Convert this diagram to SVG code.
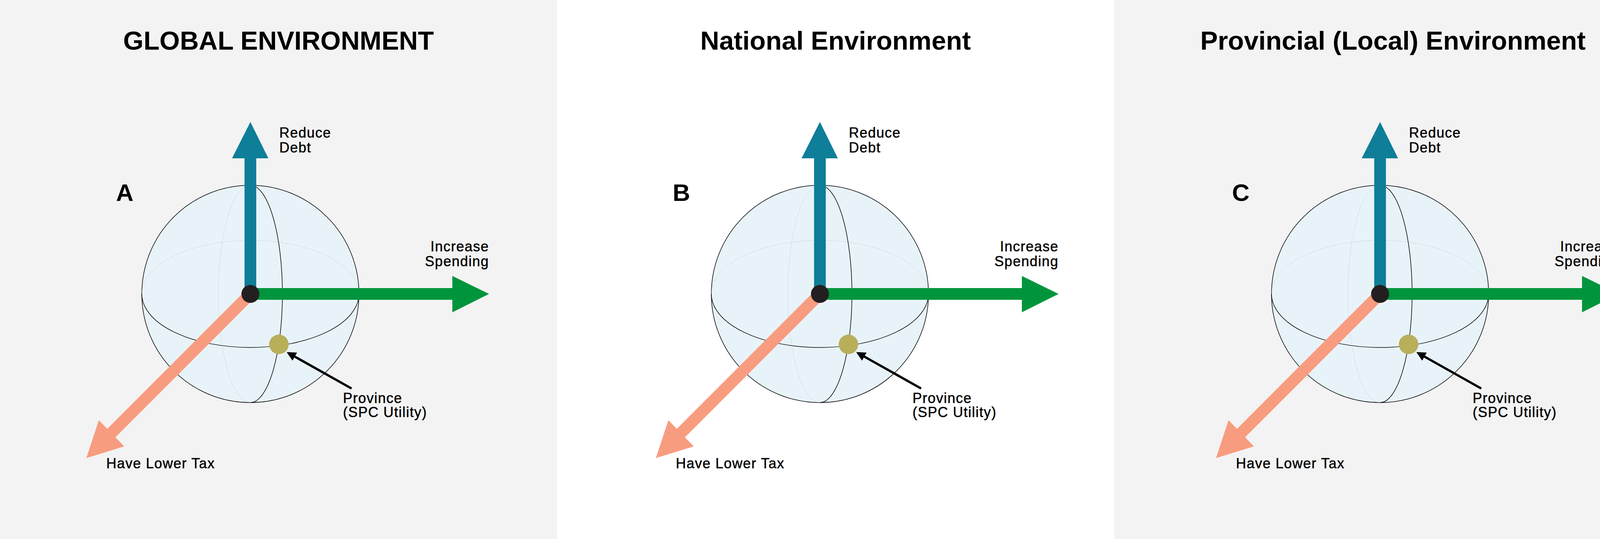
<svg xmlns="http://www.w3.org/2000/svg" width="4278" height="1379" viewBox="0 0 4278 1379">
<defs>
<style>
.t{font-family:"Liberation Sans",Arial,sans-serif;font-weight:bold;font-size:67px;fill:#000;text-anchor:middle}
.L{font-family:"Liberation Sans",Arial,sans-serif;font-weight:bold;font-size:62px;fill:#000}
.lb{font-family:"Liberation Sans",Arial,sans-serif;font-size:36px;fill:#000;stroke:#000;stroke-width:0.6;letter-spacing:1.5px}
.sph{fill:#e8f3f9;stroke:#000;stroke-width:1.5}
.fr{fill:none;stroke:#000;stroke-width:1.5}
.bk{fill:none;stroke:#aab;stroke-width:1;stroke-dasharray:2 3}
</style>
<marker id="ah" viewBox="0 0 10 10" refX="8" refY="5" markerWidth="4" markerHeight="4" orient="auto"><path d="M0,0 L10,5 L0,10 z" fill="#000"/></marker>
<g id="panel">
<g class="sphere"><circle r="278" class="sph"/>
<path class="bk" d="M-278,0 A278,137 0 0 1 278,0"/>
<path class="bk" d="M0,-278 A82,278 0 0 0 0,278"/>
<path class="fr" d="M-278,0 A278,137 0 0 0 278,0"/>
<path class="fr" d="M0,-278 A82,278 0 0 1 0,278"/></g>
<g class="ax-debt"><rect x="-15" y="-348" width="30" height="348" fill="#0f7e99"/><polygon points="-47,-347 46,-347 0,-440" fill="#0f7e99"/></g>
<g class="ax-spend"><rect x="0" y="-15" width="518" height="30" fill="#00953d"/><polygon points="517,-46 517,47 611,0" fill="#00953d"/></g>
<g class="ax-tax"><line x1="0" y1="0" x2="-358" y2="358" stroke="#f89c80" stroke-width="30"/><polygon points="-388,323 -323,390 -420,420" fill="#f89c80"/></g>
<circle r="23" fill="#231f20"/>
<circle cx="73" cy="129" r="25" fill="#b8af5a"/>
<line x1="259" y1="242" x2="97" y2="151" stroke="#000" stroke-width="6" marker-end="url(#ah)"/>
<text class="lb" x="74" y="-400">Reduce</text><text class="lb" x="74" y="-362">Debt</text>
<text class="lb" x="611" y="-109" text-anchor="end">Increase</text><text class="lb" x="611" y="-71" text-anchor="end">Spending</text>
<text class="lb" x="237" y="279">Province</text><text class="lb" x="237" y="315">(SPC Utility)</text>
<text class="lb" x="-369" y="446">Have Lower Tax</text>
</g>
</defs>
<rect width="1426" height="1379" fill="#f3f3f3"/>
<rect x="1426" width="1426" height="1379" fill="#ffffff"/>
<rect x="2852" width="1426" height="1379" fill="#f3f3f3"/>
<g id="panelA"><text class="t" x="713" y="127">GLOBAL ENVIRONMENT</text><text class="L" x="297" y="514">A</text><use href="#panel" x="641" y="752"/></g>
<g id="panelB"><text class="t" x="2139" y="127">National Environment</text><text class="L" x="1722" y="514">B</text><use href="#panel" x="2099" y="752"/></g>
<g id="panelC"><text class="t" x="3566" y="127">Provincial (Local) Environment</text><text class="L" x="3154" y="514">C</text><use href="#panel" x="3533" y="752"/></g>
<g id="connectors"/>
</svg>
